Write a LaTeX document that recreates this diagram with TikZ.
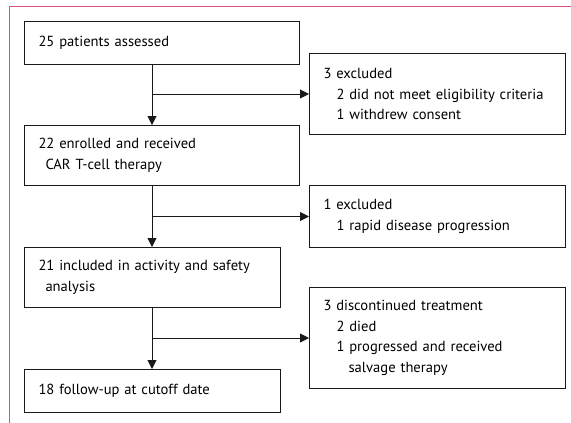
\documentclass[tikz,border=0pt]{standalone}
\usepackage{fontspec}
\setmainfont{PT Sans}
\usetikzlibrary{arrows.meta}
\definecolor{framepink}{RGB}{220,80,120}
\newcommand\ind{\hspace*{13pt}}

\begin{document}
\begin{tikzpicture}
    [x=1pt, y=-1pt,
      every node/.style={font=\fontsize{14.6}{20.5}\selectfont},
      flowbox/.style={draw=black!90, line width=1pt, anchor=north west,
        align=left, inner xsep=14pt, inner ysep=0pt},
      leftbox/.style={flowbox, minimum width=275pt, text width=247pt},
      smallbox/.style={flowbox, minimum width=256pt, text width=228pt},
      link/.style={draw=black!90, line width=1pt},
      arr/.style={link, -{Triangle[width=9pt,length=9pt]}}]
    \useasboundingbox (0,0) rectangle (571,423);
    \draw[framepink, line width=1pt] (9,423) -- (9,6) -- (571,6);
    \node[leftbox, minimum height=43pt] (assessed) at (24,21) {25 patients assessed};
    \node[leftbox, minimum height=60pt] (enrolled) at (24,125)
      {22 enrolled and received\\\hspace*{7pt}CAR T-cell therapy};
    \node[leftbox, minimum width=256pt, text width=228pt, minimum height=60pt] (included) at (24,247)
      {21 included in activity and safety\\\hspace*{7pt}analysis};
    \node[leftbox, minimum width=256pt, text width=228pt, minimum height=43pt] (followup) at (24,369)
      {18 follow-up at cutoff date};
    \node[smallbox, minimum height=81pt] (excla) at (309,53)
      {3 excluded\\\ind 2 did not meet eligibility criteria\\\ind 1 withdrew consent};
    \node[smallbox, minimum height=62pt] (exclb) at (309,185)
      {1 excluded\\\ind 1 rapid disease progression};
    \node[smallbox, minimum height=101pt] (discont) at (309,287)
      {3 discontinued treatment\\\ind 2 died\\\ind 1 progressed and received\\\ind\hspace*{12pt}salvage therapy};
    \coordinate (trunk) at (152,0);
    \draw[arr] (assessed.south -| trunk) -- (enrolled.north -| trunk);
    \draw[arr] (enrolled.south -| trunk) -- (included.north -| trunk);
    \draw[arr] (included.south -| trunk) -- (followup.north -| trunk);
    \draw[arr] (trunk |- excla.west) -- (excla.west);
    \draw[arr] (trunk |- exclb.west) -- (exclb.west);
    \draw[arr] (trunk |- discont.west) -- (discont.west);
  \end{tikzpicture}
\end{document}
